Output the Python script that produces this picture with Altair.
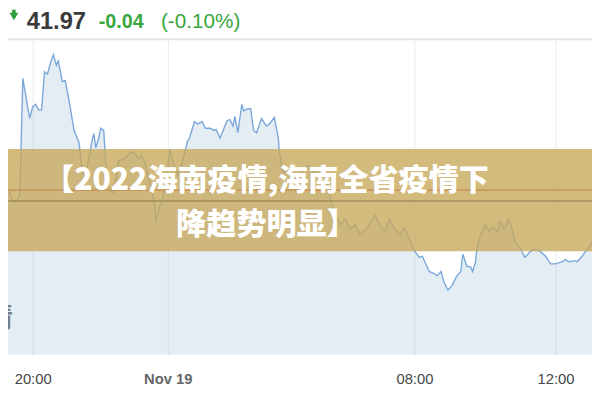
import altair as alt
import pandas as pd

# ---- data ----
# hours after 20:00 (Nov 18)
times = [-0.963, -0.876, -0.759, -0.672, -0.584, -0.467, -0.380, -0.292, -0.088, 0.000,
         0.088, 0.175, 0.263, 0.350, 0.438, 0.555, 0.613, 0.701, 0.759, 0.876,
         0.964, 1.080, 1.226, 1.372, 1.431, 1.489, 1.606, 1.752, 1.810, 1.869,
         1.956, 2.015, 2.102, 2.161, 2.248, 2.394, 2.540, 2.745, 2.920, 3.036,
         3.124, 3.212, 3.328, 3.504, 3.620, 3.650, 3.766, 3.854, 4.000, 4.064,
         4.160, 4.320, 4.480, 4.640, 4.704, 4.864, 4.960, 5.120, 5.216, 5.376,
         5.504, 5.568, 5.696, 5.920, 6.016, 6.112, 6.176, 6.272, 6.400, 6.464,
         6.592, 6.688, 6.784, 6.880, 7.040, 7.200, 7.296, 7.456, 7.584, 7.616,
         7.744, 7.936, 8.160, 8.384, 8.544, 8.736, 8.960, 9.120, 9.280, 9.440,
         9.600, 9.760, 9.920, 10.080, 10.240, 10.464, 10.720, 10.880, 11.040, 11.200,
         11.360, 11.520, 11.680, 11.840, 12.000, 12.140, 12.224, 12.420, 12.559, 12.643,
         12.755, 12.839, 12.951, 13.063, 13.203, 13.315, 13.371, 13.483, 13.594, 13.650,
         13.734, 13.762, 13.874, 14.014, 14.126, 14.238, 14.350, 14.434, 14.545, 14.657,
         14.741, 14.853, 14.993, 15.133, 15.273, 15.357, 15.552, 15.720, 15.860, 16.000,
         16.196, 16.280, 16.392, 16.531, 16.615, 16.755, 16.839, 16.979, 17.035]

prices = [42.019, 42.017, 42.010, 42.007, 41.999, 42.001, 42.005, 42.113, 42.076, 42.087,
          42.089, 42.084, 42.084, 42.119, 42.117, 42.130, 42.135, 42.125, 42.129, 42.110,
          42.111, 42.092, 42.065, 42.054, 42.037, 42.025, 42.030, 42.055, 42.062, 42.049,
          42.058, 42.067, 42.065, 42.037, 42.013, 42.007, 42.037, 42.040, 42.045, 42.044,
          42.039, 42.042, 42.035, 42.013, 41.995, 41.981, 41.995, 42.004, 42.031, 42.048,
          42.037, 42.024, 42.037, 42.055, 42.058, 42.073, 42.071, 42.073, 42.067, 42.067,
          42.065, 42.066, 42.058, 42.074, 42.075, 42.069, 42.078, 42.063, 42.089, 42.083,
          42.085, 42.085, 42.065, 42.063, 42.076, 42.069, 42.071, 42.077, 42.058, 42.046,
          42.026, 42.030, 42.021, 42.028, 42.033, 42.026, 42.030, 42.024, 42.001, 41.987,
          41.978, 41.983, 41.974, 41.978, 41.969, 41.975, 41.987, 41.978, 41.972, 41.983,
          41.974, 41.969, 41.975, 41.965, 41.954, 41.948, 41.949, 41.935, 41.933, 41.931,
          41.935, 41.925, 41.918, 41.922, 41.931, 41.935, 41.951, 41.940, 41.939, 41.935,
          41.944, 41.954, 41.969, 41.978, 41.972, 41.976, 41.972, 41.981, 41.974, 41.983,
          41.978, 41.962, 41.957, 41.948, 41.953, 41.955, 41.954, 41.949, 41.942, 41.942,
          41.944, 41.946, 41.944, 41.945, 41.944, 41.949, 41.953, 41.958, 41.963]

tick_hours = [0, 4, 12, 16]
tick_labels = ["20:00", "Nov 19", "08:00", "12:00"]
grid_prices = [41.9073, 41.9573, 42.0073, 42.0573, 42.1073]
prev_close = 42.01
level_line = 42.00
banner_top, banner_bottom = 42.048, 41.9536
y_min, y_max = 41.8582, 42.1482
x_min, x_max = -0.730, 17.035

last_price = "41.97"
change = "-0.04"
change_pct = "(-0.10%)"
headline = ["【2022海南疫情,海南全省疫情下", "降趋势明显】"]
watermark = "情"

W, H = 592, 319

df = pd.DataFrame({"t": times, "p": prices})

label_expr = " : ".join(
    f"datum.value == {v} ? '{l}'" for v, l in zip(tick_hours, tick_labels)
) + " : ''"

x_scale = alt.Scale(domain=[x_min, 0, 4, 12, 16, x_max],
                    range=[0, 25, 162, 412, 555, W], nice=False, zero=False)
y_scale = alt.Scale(domain=[y_min, y_max], nice=False, zero=False)

x_axis = alt.Axis(values=tick_hours, labelExpr=label_expr, grid=True, gridColor="#ececec",
                  gridWidth=1, domain=False, ticks=False, labelPadding=17, labelFontSize=15,
                  labelFont="Arial", title=None, labelFlush=False,
                  labelColor={"condition": {"test": "datum.value == 4", "value": "#666666"},
                              "value": "#444444"},
                  labelFontWeight={"condition": {"test": "datum.value == 4", "value": "bold"},
                                   "value": "normal"})
y_axis = alt.Axis(values=grid_prices, labels=False, ticks=False, domain=False, grid=True,
                  gridColor="#ececec", gridWidth=1, title=None)

base = alt.Chart(df)
area = base.mark_area(color="#78a0c8", opacity=0.2, clip=True).encode(
    x=alt.X("t:Q", scale=x_scale, axis=x_axis),
    y=alt.Y("p:Q", scale=y_scale, axis=y_axis),
    y2=alt.datum(y_min),
)
line = base.mark_line(color="#7ba8da", strokeWidth=1.4, clip=True).encode(
    x="t:Q", y="p:Q"
)

banner = alt.Chart(pd.DataFrame({"top": [banner_top], "bot": [banner_bottom]})).mark_rect(
    color="#c6a85a", opacity=0.78
).encode(x=alt.value(0), x2=alt.value(W), y=alt.Y("top:Q", axis=None), y2="bot:Q")

prev_rule = alt.Chart(pd.DataFrame({"v": [prev_close]})).mark_rule(
    color="#c98a4e", strokeWidth=1.5
).encode(y=alt.Y("v:Q", axis=None), x=alt.value(0), x2=alt.value(W))
level_rule = alt.Chart(pd.DataFrame({"v": [level_line]})).mark_rule(
    color="#8c7a48", strokeWidth=1.2
).encode(y=alt.Y("v:Q", axis=None), x=alt.value(0), x2=alt.value(W))

top_line = alt.Chart(pd.DataFrame({"a": [0]})).mark_rule(
    color="#e4e4e4", strokeWidth=2
).encode(y=alt.value(-1), x=alt.value(0), x2=alt.value(W))

# green down arrow in the header
arrow_head = alt.Chart(pd.DataFrame({"a": [0]})).mark_point(
    shape="triangle-down", filled=True, color="#2e9e3e", size=80, opacity=1
).encode(x=alt.value(6), y=alt.value(-24))
arrow_stem = alt.Chart(pd.DataFrame({"a": [0]})).mark_rule(
    color="#2e9e3e", strokeWidth=3.5
).encode(x=alt.value(6), y=alt.value(-31), y2=alt.value(-25))


def txt(s, x, y, **kw):
    return alt.Chart(pd.DataFrame({"s": [s]})).mark_text(**kw).encode(
        text="s:N", x=alt.value(x), y=alt.value(y))


cjk = "Noto Sans CJK SC"
head1 = txt(headline[0], 262, 143, font=cjk, fontSize=30.5, fontWeight=900,
            color="white", align="center", baseline="middle")
head2 = txt(headline[1], 262, 188, font=cjk, fontSize=30.5, fontWeight=900,
            color="white", align="center", baseline="middle")

price_t = txt(last_price, 19, -18, font="Arial", fontSize=24, fontWeight="bold",
              color="#3a3a3a", align="left", baseline="middle")
chg_t = txt(change, 92, -18, font="Arial", fontSize=20, fontWeight="bold",
            color="#3aa640", align="left", baseline="middle")
pct_t = txt(change_pct, 155, -18, font="Arial", fontSize=21,
            color="#3aa640", align="left", baseline="middle")
wm = txt(watermark, 5, 283, font=cjk, fontSize=28, fontWeight="bold",
         color="#767b82", align="right", baseline="middle")

chart = alt.layer(
    area, line, wm, banner, prev_rule, level_rule, head1, head2,
    top_line, arrow_stem, arrow_head, price_t, chg_t, pct_t
).properties(
    width=W, height=H,
    autosize=alt.AutoSizeParams(type="none"),
    padding={"left": 0, "top": 30, "right": 0, "bottom": 30},
).configure_view(stroke=None)

chart.save("out.html", embed_options={"renderer": "svg", "actions": False})
